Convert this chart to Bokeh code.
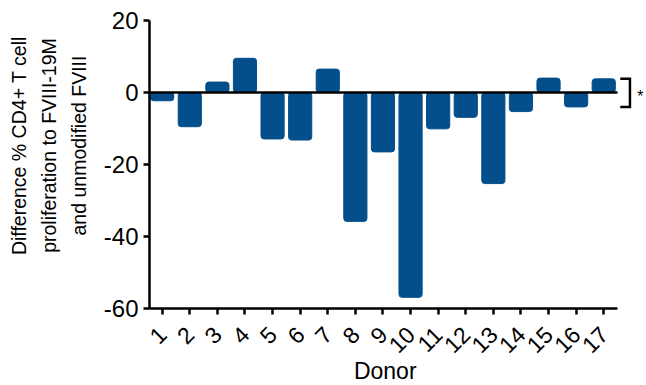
import math
from bokeh.plotting import figure
from bokeh.models import Range1d, FixedTicker
from bokeh.core.properties import value
from bokeh.embed import file_html
from bokeh.resources import INLINE

# ---- data ----
donors = list(range(1, 18))
tick_labels = [str(d) for d in donors]
difference = [-2.3, -9.5, 2.9, 9.5, -12.9, -13.2, 6.5, -35.8, -16.5, -56.9,
              -10.1, -6.9, -25.3, -5.3, 4.0, -4.0, 3.8]
y_ticks = [-60, -40, -20, 0, 20]
y_tick_labels = ["-60", "-40", "-20", "0", "20"]
bracket_ends = [3.8, -4.0]          # spans the values the comparison refers to
sig_label = "*"
x_title = "Donor"
y_title_lines = ["Difference % CD4+ T cell",
                 "proliferation to FVIII-19M",
                 "and unmodified FVIII"]

# ---- layout constants ----
x_start, x_axis_end, x_frame_end = 0.54, 17.5, 18.55
y_start, y_end = -60, 20
bracket_arm_x, bracket_x = 17.6, 17.95
sig_x = 18.33
title_pad = "\u00a0" * 7   # nudges the centred y title upwards, as in the original
xtitle_pad = "\u00a0" * 4  # centres "Donor" under the axis line rather than the frame

FONT = "Liberation Sans"
BAR = "#044F8B"

p = figure(frame_width=497, frame_height=288,
           x_range=Range1d(x_start, x_frame_end), y_range=Range1d(y_start, y_end),
           output_backend="svg", toolbar_location=None,
           min_border_left=149, min_border_right=0, min_border_top=20, min_border_bottom=10)
p.grid.visible = False
p.outline_line_color = None

p.vbar(x=donors, top=difference, bottom=0, width=0.84, fill_color=BAR,
       line_color=BAR, border_radius=3)
p.segment(x0=[x_start], y0=[0], x1=[x_axis_end], y1=[0], line_color="black", line_width=2.5)

# significance bracket and star
p.line(x=[bracket_arm_x, bracket_x, bracket_x, bracket_arm_x],
       y=[bracket_ends[0], bracket_ends[0], bracket_ends[1], bracket_ends[1]],
       line_color="black", line_width=2.5, line_join="miter")
p.text(x=[sig_x], y=[sum(bracket_ends) / 2], text=[sig_label], text_font=value(FONT),
       text_font_size="16px", text_align="center", text_baseline="middle",
       y_offset=4, text_color="black")

# x axis
xa = p.xaxis[0]
xa.ticker = FixedTicker(ticks=donors, minor_ticks=[])
xa.major_label_overrides = {d: l for d, l in zip(donors, tick_labels)}
xa.bounds = (x_start, x_axis_end)
xa.axis_line_width = 2.5
xa.major_tick_line_width = 2.5
xa.major_tick_out = 6
xa.major_tick_in = 0
xa.major_label_text_font = FONT
xa.major_label_text_font_size = "23px"
xa.major_label_text_color = "black"
xa.major_label_orientation = math.pi / 4
xa.major_label_standoff = 16
xa.axis_label = x_title + xtitle_pad
xa.axis_label_text_font = FONT
xa.axis_label_text_font_size = "23px"
xa.axis_label_text_font_style = "normal"
xa.axis_label_text_color = "black"
xa.axis_label_standoff = -6

# y axis
ya = p.yaxis[0]
ya.ticker = FixedTicker(ticks=y_ticks, minor_ticks=[])
ya.major_label_overrides = {t: l for t, l in zip(y_ticks, y_tick_labels)}
ya.axis_line_width = 2.5
ya.major_tick_line_width = 2.5
ya.major_tick_out = 6
ya.major_tick_in = 0
ya.major_label_text_font = FONT
ya.major_label_text_font_size = "24px"
ya.major_label_text_color = "black"
ya.major_label_standoff = 5
ya.axis_label = "\n".join(title_pad + line for line in y_title_lines)
ya.axis_label_text_font = FONT
ya.axis_label_text_font_size = "19.5px"
ya.axis_label_text_font_style = "normal"
ya.axis_label_text_color = "black"
ya.axis_label_text_line_height = 1.36
ya.axis_label_text_align = "center"
ya.axis_label_standoff = 11

open("out.html", "w").write(file_html(p, INLINE))
